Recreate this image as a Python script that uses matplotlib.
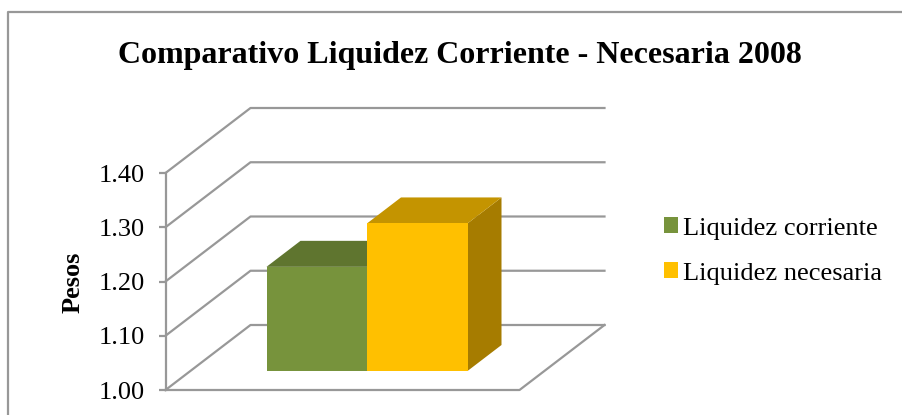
import matplotlib
matplotlib.use('Agg')
import matplotlib.pyplot as plt
from matplotlib.patches import Polygon, Patch
from matplotlib.lines import Line2D

plt.rcParams['font.family'] = ['Liberation Serif', 'DejaVu Serif']

title = 'Comparativo Liquidez Corriente - Necesaria 2008'
ylabel = 'Pesos'
series = ['Liquidez corriente', 'Liquidez necesaria']
values = [1.192, 1.272]
yticks = [1.00, 1.10, 1.20, 1.30, 1.40]

front = ['#77933C', '#FFC000']
top = ['#5F752F', '#C49400']
side = ['#5A7030', '#A67C00']
grid_col = '#989898'

W, H = 902, 415
fig = plt.figure(figsize=(W / 100, H / 100), dpi=100)

# front plane of the 3d box, pixels
ax = fig.add_axes([165.5 / W, 1 - 390 / H, 354 / W, 217 / H])
ax.set_xlim(0, 1)
ax.set_ylim(1.0, 1.4)
ax.patch.set_visible(False)
for s in ['top', 'right', 'bottom']:
    ax.spines[s].set_visible(False)
ax.spines['left'].set_color(grid_col)
ax.spines['left'].set_linewidth(1.6)

# oblique depth in data units
dx = 85 / 354
dy = 65 / 217 * 0.4

# walls
for v in yticks:
    ax.plot([0, dx, 1 + dx], [v, v + dy, v + dy], color=grid_col, lw=1.6,
            clip_on=False, zorder=1)
ax.plot([0, 1, 1 + dx], [1.0, 1.0, 1.0 + dy], color=grid_col, lw=1.6,
        clip_on=False, zorder=1)

# bars, sitting part way into the depth of the floor
bar_w = 100.5 / 354
bar_dx = 34 / 354
bar_dy = 26 / 217 * 0.4
x0 = 101 / 354
shift = 19 / 217 * 0.4
base = 1.0 + shift

for i, v in enumerate(values):
    l = x0 + i * bar_w
    r = l + bar_w
    t = v + shift
    ax.add_patch(Polygon([(r, base), (r + bar_dx, base + bar_dy), (r + bar_dx, t + bar_dy), (r, t)],
                         closed=True, fc=side[i], ec='none', clip_on=False, zorder=2 + i))
    ax.add_patch(Polygon([(l, t), (l + bar_dx, t + bar_dy), (r + bar_dx, t + bar_dy), (r, t)],
                         closed=True, fc=top[i], ec='none', clip_on=False, zorder=2 + i))
    ax.add_patch(Polygon([(l, base), (r, base), (r, t), (l, t)],
                         closed=True, fc=front[i], ec='none', clip_on=False, zorder=2 + i))

ax.set_xticks([])
ax.set_yticks(yticks)
ax.set_yticklabels(['%.2f' % v for v in yticks], fontsize=19)
ax.tick_params(axis='y', length=5, width=1.6, color=grid_col, pad=10, labelcolor='black')

fig.text(460 / W, 1 - 55 / H, title, fontsize=23, fontweight='bold', ha='center', va='center')
fig.text(73 / W, 1 - 282 / H, ylabel, fontsize=19, fontweight='bold', rotation=90, ha='center', va='center')

handles = [Patch(fc=front[i], ec='none') for i in range(2)]
fig.legend(handles, series, loc='center left', bbox_to_anchor=(664 / W, 1 - 251 / H), frameon=False,
           fontsize=19, handlelength=0.53, handleheight=0.53, handletextpad=0.2,
           labelspacing=0.87, borderpad=0, borderaxespad=0)

# chart frame
fig.add_artist(Line2D([8 / W, 8 / W, 1], [0, 1 - 12.5 / H, 1 - 12.5 / H], color=grid_col, lw=1.6))

fig.savefig('out.png', dpi=100)
